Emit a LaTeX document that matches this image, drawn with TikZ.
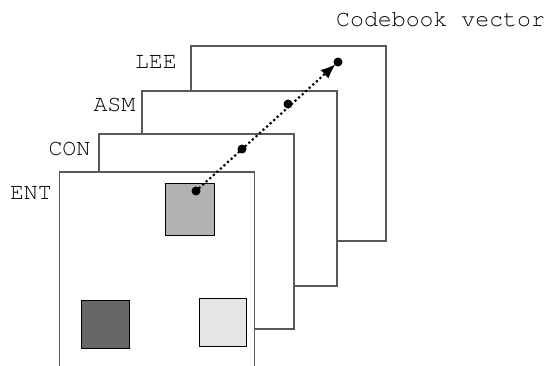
\documentclass[tikz,border=0pt]{standalone}
\usepackage{fontspec}
\setmonofont{texgyrecursor-regular.otf}
\usetikzlibrary{arrows.meta,calc}
\begin{document}
\begin{tikzpicture}[x=1pt,y=-1pt,
  panel/.style={draw=black!65, line width=1.1pt, fill=white, minimum width=195pt, minimum height=195pt, anchor=north west, inner sep=0pt, outer sep=0pt},
  patch/.style={draw=black, line width=1pt, anchor=north west, inner sep=0pt, outer sep=0pt},
  lbl/.style={font=\ttfamily\fontsize{23.2}{25}\selectfont, inner sep=0pt, anchor=base east},
  vdot/.style={circle, fill=black, minimum size=9pt, inner sep=0pt},
  flow/.style={line width=3pt, line cap=round, dash pattern=on 0pt off 4.8pt}
]
\useasboundingbox (0,0) rectangle (545,365);
\node[panel] (lee) at (191,46) {};
\node[panel] (asm) at (142,91) {};
\node[panel] (con) at (99,134) {};
\node[panel, minimum height=200pt] (ent) at (59.5,172) {};
\node[patch, fill=black!30, minimum width=49pt, minimum height=52.5pt] (g1) at (165.5,183) {};
\node[patch, fill=black!60, minimum width=47.5pt, minimum height=48pt] (g2) at (81.5,300) {};
\node[patch, fill=black!10, minimum width=47.5pt, minimum height=48pt] (g3) at (199,298.5) {};
\node[lbl] (tlee) at (177,68) {LEE};
\node[lbl] (tasm) at (135.5,111.5) {ASM};
\node[lbl] (tcon) at (90.5,155) {CON};
\node[lbl] (tent) at (52,199) {ENT};
\node[lbl, anchor=base west] (tcb) at (336,26) {Codebook vector};
\node[vdot] (d1) at (196,191) {};
\node[vdot] (d2) at (242,149) {};
\node[vdot] (d3) at (288,104) {};
\node[vdot] (d4) at (338,62) {};
\draw[flow] (d1.center) -- ($(d4.center)!14pt!(d1.center)$);
\draw[line width=0.1pt, -{Latex[length=14pt,width=11pt]}, shorten >=4pt] ($(d4.center)!18pt!(d1.center)$) -- (d4.center);
\end{tikzpicture}
\end{document}
